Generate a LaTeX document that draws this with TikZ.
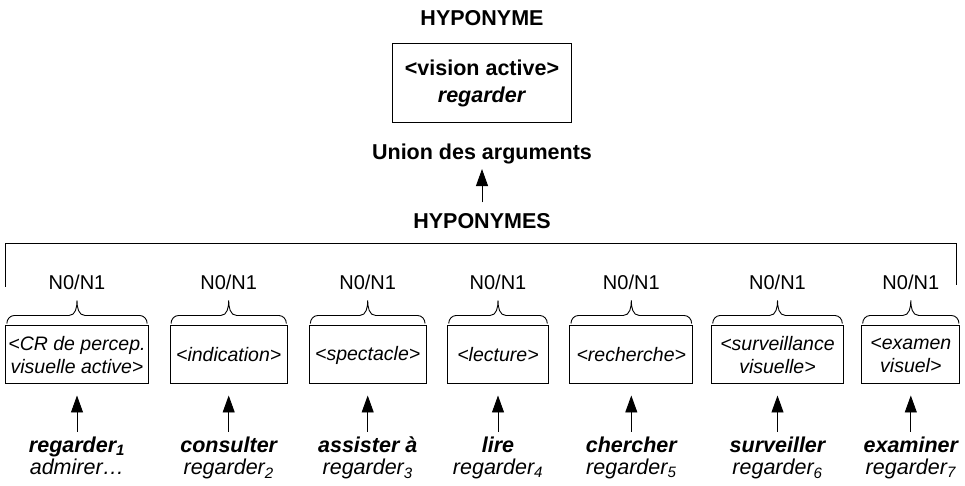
\documentclass[tikz,border=0pt]{standalone}
\usepackage{fontspec}
\setmainfont{Liberation Sans}
\usepackage{tikz}
\usetikzlibrary{positioning, calc}
\usetikzlibrary{arrows.meta}
\newcommand{\accolade}[1]{%
  \draw[accolade] ($(#1.north west)+(1.5,2)$) to[out=90,in=180] ($(#1.north west)+(9,10)$)
    -- ($(#1.north)+(-8,10)$) to[out=0,in=-90] ($(#1.north)+(0,25)$)
    to[out=-90,in=180] ($(#1.north)+(8,10)$)
    -- ($(#1.north east)+(-9,10)$) to[out=0,in=90] ($(#1.north east)+(-1.5,2)$);}

\begin{document}
\begin{tikzpicture}[x=1pt,y=1pt]
% Define styles
\tikzstyle{titre} = [font=\fontsize{21.5}{27}\selectfont\bfseries, inner sep=0pt, anchor=base]
\tikzstyle{cadre} = [draw, line width=1pt, align=center, minimum height=58pt, inner sep=2pt, font=\fontsize{19.5}{23}\selectfont\itshape]
\tikzstyle{arg} = [font=\fontsize{20}{24}\selectfont, inner sep=0pt, anchor=base]
\tikzstyle{verbe} = [font=\fontsize{21.5}{22}\selectfont\itshape, align=center, inner sep=0pt, anchor=north]
\tikzstyle{fleche} = [-{Triangle[length=17pt,width=12pt]}, line width=0.9pt]
\tikzstyle{accolade} = [line width=0.9pt]
\useasboundingbox (0,0) rectangle (965,486);
% Define nodes
\node[titre] (hyper) at (482,460) {HYPONYME};
\node[draw, line width=1pt, minimum width=179pt, minimum height=79pt, align=center, font=\fontsize{21.5}{27}\selectfont\bfseries] (vision) at (482,402.5) {<vision active>\\\textit{regarder}};
\node[titre] (union) at (482,326) {Union des arguments};
\node[titre] (hypos) at (482,257.3) {HYPONYMES};

\coordinate (cadre_g) at (5.3,199);
\coordinate (cadre_d) at (956.7,201);
\coordinate (cadre_h) at (956.7,242.7);

\node[cadre, minimum width=142.3pt] (cr) at (77,131) {<CR de percep.\\visuelle active>};
\node[cadre, minimum width=117.3pt] (indication) at (228.7,131) {<indication>};
\node[cadre, minimum width=116.7pt] (spectacle) at (367.7,131) {<spectacle>};
\node[cadre, minimum width=100.6pt] (lecture) at (498,131) {<lecture>};
\node[cadre, minimum width=122.7pt] (recherche) at (631.3,131) {<recherche>};
\node[cadre, minimum width=131.6pt] (surveillance) at (777.5,131) {<surveillance\\visuelle>};
\node[cadre, minimum width=98.3pt] (examen) at (910.8,131) {<examen\\visuel>};

\node[arg] (arg_cr) at (77,196) {N0/N1};
\node[arg] (arg_indication) at (228.7,196) {N0/N1};
\node[arg] (arg_spectacle) at (367.7,196) {N0/N1};
\node[arg] (arg_lecture) at (498,196) {N0/N1};
\node[arg] (arg_recherche) at (631.3,196) {N0/N1};
\node[arg] (arg_surveillance) at (777.5,196) {N0/N1};
\node[arg] (arg_examen) at (910.8,196) {N0/N1};

\node[verbe] (v_cr) at (77,49) {\textbf{regarder\textsubscript{1}}\\admirer…};
\node[verbe] (v_indication) at (228.7,49) {\textbf{consulter}\\regarder\textsubscript{2}};
\node[verbe] (v_spectacle) at (367.7,49) {\textbf{assister à}\\regarder\textsubscript{3}};
\node[verbe] (v_lecture) at (498,49) {\textbf{lire}\\regarder\textsubscript{4}};
\node[verbe] (v_recherche) at (631.3,49) {\textbf{chercher}\\regarder\textsubscript{5}};
\node[verbe] (v_surveillance) at (777.5,49) {\textbf{surveiller}\\regarder\textsubscript{6}};
\node[verbe] (v_examen) at (910.8,49) {\textbf{examiner}\\regarder\textsubscript{7}};

% Connect the nodes
\draw[fleche, shorten <=11pt, shorten >=4.3pt] (hypos) -- (union);
\draw[line width=1.2pt] (cadre_g) |- (cadre_h) -- (cadre_d);

\accolade{cr}
\accolade{indication}
\accolade{spectacle}
\accolade{lecture}
\accolade{recherche}
\accolade{surveillance}
\accolade{examen}

\draw[fleche, shorten <=5pt, shorten >=11pt] (v_cr) -- (cr);
\draw[fleche, shorten <=5pt, shorten >=11pt] (v_indication) -- (indication);
\draw[fleche, shorten <=5pt, shorten >=11pt] (v_spectacle) -- (spectacle);
\draw[fleche, shorten <=5pt, shorten >=11pt] (v_lecture) -- (lecture);
\draw[fleche, shorten <=5pt, shorten >=11pt] (v_recherche) -- (recherche);
\draw[fleche, shorten <=5pt, shorten >=11pt] (v_surveillance) -- (surveillance);
\draw[fleche, shorten <=5pt, shorten >=11pt] (v_examen) -- (examen);

\end{tikzpicture}
\end{document}
